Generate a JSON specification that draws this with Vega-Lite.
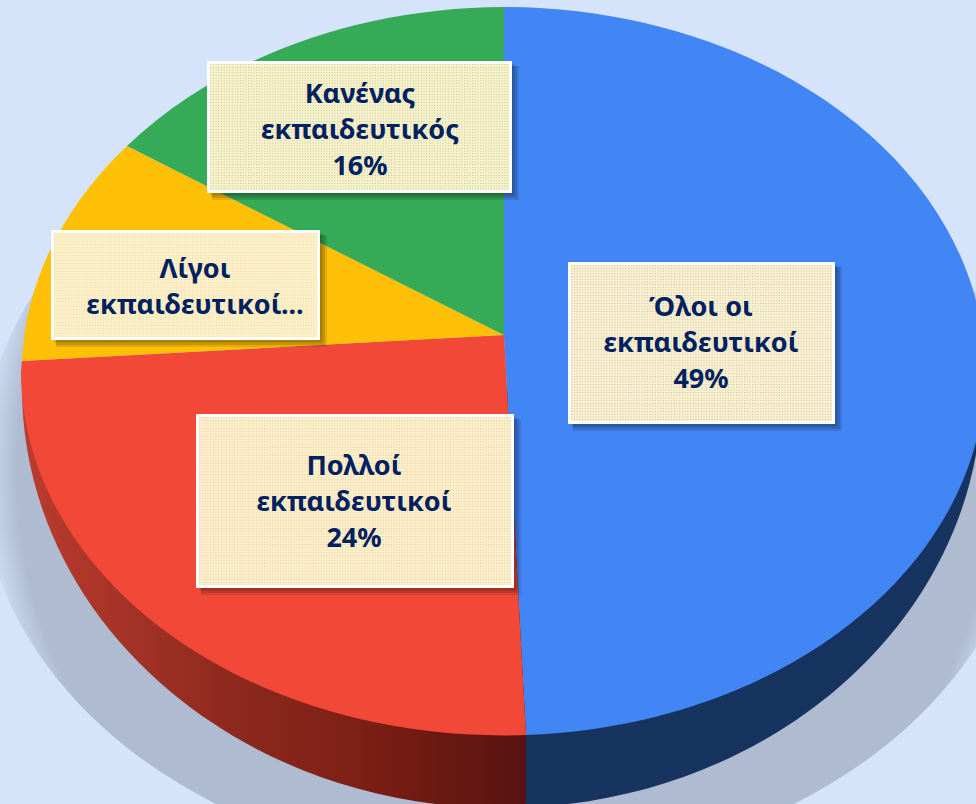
{
"$schema":"https://vega.github.io/schema/vega-lite/v6.json",
"width":976,"height":804,"padding":0,"autosize":{"type":"none"},
"background":"#d5e4fb",
"config":{"view":{"stroke":null}},
"data":{"values":[
{"category":"Όλοι οι εκπαιδευτικοί","value":49,"label":"Όλοι οι\nεκπαιδευτικοί\n49%"},
{"category":"Πολλοί εκπαιδευτικοί","value":24,"label":"Πολλοί\nεκπαιδευτικοί\n24%"},
{"category":"Λίγοι εκπαιδευτικοί","value":11,"label":"Λίγοι\nεκπαιδευτικοί..."},
{"category":"Κανένας εκπαιδευτικός","value":16,"label":"Κανένας\nεκπαιδευτικός\n16%"}
]},
"resolve":{"scale":{"shape":"independent","fill":"independent","strokeWidth":"independent"}},
"layer":[
{"transform":[{"filter":"datum.value==49"}],
 "mark":{"type":"point","filled":true,"opacity":1,"size":4,"shape":"M-508,68A525,400 0 1 1 542,68A525,400 0 1 1 -508,68Z",
 "fill":{"gradient":"radial","x1":0.5,"y1":0.5,"r1":0,"x2":0.5,"y2":0.5,"r2":0.5,"stops":[{"offset":0,"color":"#aebbd0"},{"offset":0.93,"color":"#aebbd0"},{"offset":1,"color":"#d5e4fb"}]}}},
{"transform":[{"filter":"datum.value==24"}],
 "mark":{"type":"point","filled":true,"opacity":1,"size":4,"shape":"M38,405.5A480,420 0 0 1 -466,-14L38,-14Z",
 "fill":{"gradient":"linear","x1":0,"y1":0,"x2":1,"y2":0,"stops":[{"offset":0,"color":"#bb3c2e"},{"offset":0.4,"color":"#8f2a1f"},{"offset":0.7,"color":"#7a1e14"},{"offset":1,"color":"#561310"}]}}},
{"transform":[{"filter":"datum.value==49"}],
 "mark":{"type":"point","filled":true,"opacity":1,"size":4,"shape":"M38,405.5A480,420 0 0 0 494,-14L38,-14Z","fill":"#17335f"}},
{"mark":{"type":"point","filled":true,"opacity":1,"size":4},
 "encoding":{
 "shape":{"field":"category","type":"nominal","legend":null,"scale":{"domain":["Όλοι οι εκπαιδευτικοί","Πολλοί εκπαιδευτικοί","Λίγοι εκπαιδευτικοί","Κανένας εκπαιδευτικός"],"range":["M16,-67L16,-395A482,364 0 0 1 497,-31A482,364 0 0 1 38,333Z","M16,-67L38,333A482,364 0 0 1 -467,-31L-466,-41Z","M16,-67L-466,-41A482,364 0 0 1 -361,-256Z","M16,-67L-361,-256A482,364 0 0 1 16,-395Z"]}},
 "fill":{"field":"category","type":"nominal","legend":null,"scale":{"domain":["Όλοι οι εκπαιδευτικοί","Πολλοί εκπαιδευτικοί","Λίγοι εκπαιδευτικοί","Κανένας εκπαιδευτικός"],"range":["#4285f4","#f14838","#ffc107","#35ab57"]}}}},
{"mark":{"type":"point","filled":true,"size":4,"opacity":0.1,"fill":"#000","stroke":"#000","strokeWidth":5,"xOffset":6,"yOffset":6},
 "encoding":{"shape":{"field":"category","type":"nominal","legend":null,"scale":{"domain":["Όλοι οι εκπαιδευτικοί","Πολλοί εκπαιδευτικοί","Λίγοι εκπαιδευτικοί","Κανένας εκπαιδευτικός"],"range":["M81.5,-138.5H345.5V20.5H81.5Z","M-290.5,13.5H24.5V184.5H-290.5Z","M-435.5,-170.5H-169.5V-63.5H-435.5Z","M-279.5,-339.5H22.5V-210.5H-279.5Z"]}}}},
{"mark":{"type":"point","filled":true,"size":4,"opacity":0.12,"fill":"#000","stroke":"#000","strokeWidth":3,"xOffset":5,"yOffset":5},
 "encoding":{"shape":{"field":"category","type":"nominal","legend":null,"scale":{"domain":["Όλοι οι εκπαιδευτικοί","Πολλοί εκπαιδευτικοί","Λίγοι εκπαιδευτικοί","Κανένας εκπαιδευτικός"],"range":["M81.5,-138.5H345.5V20.5H81.5Z","M-290.5,13.5H24.5V184.5H-290.5Z","M-435.5,-170.5H-169.5V-63.5H-435.5Z","M-279.5,-339.5H22.5V-210.5H-279.5Z"]}}}},
{"mark":{"type":"point","filled":true,"size":4,"opacity":0.15,"fill":"#000","stroke":"#000","strokeWidth":2,"xOffset":3,"yOffset":3},
 "encoding":{"shape":{"field":"category","type":"nominal","legend":null,"scale":{"domain":["Όλοι οι εκπαιδευτικοί","Πολλοί εκπαιδευτικοί","Λίγοι εκπαιδευτικοί","Κανένας εκπαιδευτικός"],"range":["M81.5,-138.5H345.5V20.5H81.5Z","M-290.5,13.5H24.5V184.5H-290.5Z","M-435.5,-170.5H-169.5V-63.5H-435.5Z","M-279.5,-339.5H22.5V-210.5H-279.5Z"]}}}},
{"mark":{"type":"point","filled":true,"size":4,"opacity":1},
 "encoding":{"shape":{"field":"category","type":"nominal","legend":null,"scale":{"domain":["Όλοι οι εκπαιδευτικοί","Πολλοί εκπαιδευτικοί","Λίγοι εκπαιδευτικοί","Κανένας εκπαιδευτικός"],"range":["M81.5,-138.5H345.5V20.5H81.5Z","M-290.5,13.5H24.5V184.5H-290.5Z","M-435.5,-170.5H-169.5V-63.5H-435.5Z","M-279.5,-339.5H22.5V-210.5H-279.5Z"]}},
 "fill":{"field":"category","type":"nominal","legend":null,"scale":{"domain":["Όλοι οι εκπαιδευτικοί","Πολλοί εκπαιδευτικοί","Λίγοι εκπαιδευτικοί","Κανένας εκπαιδευτικός"],"range":["#b5c0c6","#ecbf9f","#ecd596","#a9cf9e"]}}}},
{"mark":{"type":"point","filled":false,"size":4,"opacity":1,"stroke":"#fdf1cb","strokeDash":[1.7,1],"strokeCap":"butt"},
 "encoding":{"shape":{"field":"category","type":"nominal","legend":null,"scale":{"domain":["Όλοι οι εκπαιδευτικοί","Πολλοί εκπαιδευτικοί","Λίγοι εκπαιδευτικοί","Κανένας εκπαιδευτικός"],"range":["M81.5,-59H345.5","M-290.5,99H24.5","M-435.5,-117H-169.5","M-279.5,-275H22.5"]}},
 "strokeWidth":{"field":"value","type":"quantitative","legend":null,"scale":{"domain":[11,16,24,49],"range":[107,129,171,159]}}}},
{"mark":{"type":"point","filled":false,"size":4,"opacity":1,"stroke":"#fdf1cb","strokeDash":[1.7,1],"strokeCap":"butt"},
 "encoding":{"shape":{"field":"category","type":"nominal","legend":null,"scale":{"domain":["Όλοι οι εκπαιδευτικοί","Πολλοί εκπαιδευτικοί","Λίγοι εκπαιδευτικοί","Κανένας εκπαιδευτικός"],"range":["M213.5,-138.5V20.5","M-133,13.5V184.5","M-302.5,-170.5V-63.5","M-128.5,-339.5V-210.5"]}},
 "strokeWidth":{"field":"value","type":"quantitative","legend":null,"scale":{"domain":[11,16,24,49],"range":[266,302,315,264]}}}},
{"mark":{"type":"point","filled":false,"size":4,"opacity":1,"stroke":"#ffffff","strokeWidth":3},
 "encoding":{"shape":{"field":"category","type":"nominal","legend":null,"scale":{"domain":["Όλοι οι εκπαιδευτικοί","Πολλοί εκπαιδευτικοί","Λίγοι εκπαιδευτικοί","Κανένας εκπαιδευτικός"],"range":["M81.5,-138.5H345.5V20.5H81.5Z","M-290.5,13.5H24.5V184.5H-290.5Z","M-435.5,-170.5H-169.5V-63.5H-435.5Z","M-279.5,-339.5H22.5V-210.5H-279.5Z"]}}}},
{"mark":{"type":"text","font":"Noto Sans","fontWeight":"bold","fontSize":27,"lineHeight":36,"lineBreak":"\n","align":"center","baseline":"middle","fill":"#002060"},
 "encoding":{
 "text":{"field":"label","type":"nominal"},
 "x":{"field":"value","type":"quantitative","axis":null,"scale":{"domain":[11,16,24,49],"range":[195,360,354,701],"zero":false,"nice":false}},
 "y":{"field":"value","type":"quantitative","axis":null,"scale":{"domain":[11,16,24,49],"range":[270,95,467,308],"zero":false,"nice":false}}}}
]}
